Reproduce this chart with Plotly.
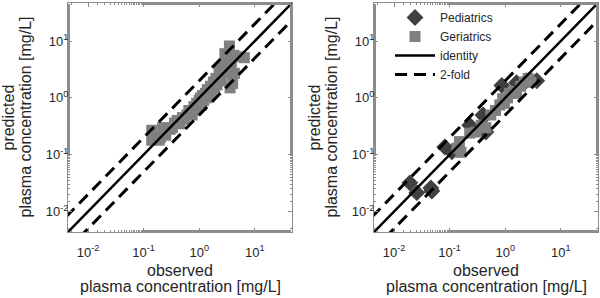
import plotly.graph_objects as go

# ---------------- data ----------------
# left panel: geriatrics (observed, predicted) [mg/L]
ger_left_obs = [0.14, 0.14, 0.19, 0.2, 0.22, 0.25, 0.3, 0.33, 0.36, 0.4, 0.45, 0.5, 0.55, 0.6,
                0.65, 0.7, 0.75, 0.8, 0.85, 0.9, 0.95, 1.0, 1.05, 1.1, 1.15, 1.2, 1.3, 1.35,
                1.4, 1.5, 1.6, 1.7, 1.8, 1.9, 2.0, 2.1, 2.3, 2.3, 2.5, 2.7, 2.9, 3.0, 3.3,
                3.5, 3.5, 3.8, 4.0, 3.6, 4.2, 4.8, 6.5, 4.3]
ger_left_pred = [0.27, 0.18, 0.18, 0.2, 0.3, 0.22, 0.28, 0.3, 0.36, 0.4, 0.35, 0.45, 0.42, 0.5,
                 0.6, 0.55, 0.5, 0.7, 0.62, 0.8, 0.7, 0.9, 1.0, 0.75, 1.1, 0.9, 1.2, 1.0,
                 1.4, 1.1, 1.6, 1.3, 1.9, 1.5, 2.2, 1.7, 2.6, 3.1, 2.0, 3.5, 6.0, 4.5, 5.5,
                 8.2, 2.8, 4.0, 1.8, 1.5, 5.6, 5.3, 5.1, 2.7]

# right panel: pediatrics
ped_obs = [0.0193, 0.0257, 0.046, 0.048, 0.082, 0.11, 0.23, 0.40, 0.42, 0.45, 0.87, 1.6, 2.4, 3.7]
ped_pred = [0.032, 0.0215, 0.026, 0.023, 0.137, 0.112, 0.33, 0.50, 0.47, 0.25, 1.66, 1.85, 2.0, 2.0]

# right panel: geriatrics
ger_right_obs = [0.135, 0.16, 0.15, 0.23, 0.30, 0.37, 0.45, 0.55, 0.67, 0.8, 0.9, 0.97, 1.1,
                 1.2, 1.4, 1.6, 1.9, 2.2, 2.6, 2.9]
ger_right_pred = [0.13, 0.11, 0.17, 0.24, 0.25, 0.33, 0.30, 0.50, 0.60, 0.75, 0.97, 0.80, 1.0,
                  1.2, 1.3, 1.2, 1.6, 1.9, 2.2, 1.9]

# reference line extent and axis ticks
line_ends = [0.004, 50]
fold = 2
axis_range_log = [-2.36, 1.67]
tick_vals = [0.01, 0.1, 1, 10]
tick_text = ["10<sup>-2</sup>", "10<sup>-1</sup>", "10<sup>0</sup>", "10<sup>1</sup>"]
x_title = ["observed", "plasma concentration [mg/L]"]
y_title = ["predicted", "plasma concentration [mg/L]"]

GER_COLOR = "#808080"
PED_COLOR = "#404040"
TXT = "#262626"
FONT = "Liberation Sans, Arial, sans-serif"

fig = go.Figure()

def add_lines(xa, ya, show):
    fig.add_trace(go.Scatter(x=line_ends, y=line_ends, mode="lines", name="identity",
                             line=dict(color="black", width=2.5), xaxis=xa, yaxis=ya,
                             showlegend=show))
    fx = [line_ends[0], line_ends[1], None, line_ends[0], line_ends[1]]
    fy = [line_ends[0] * fold, line_ends[1] * fold, None, line_ends[0] / fold, line_ends[1] / fold]
    fig.add_trace(go.Scatter(x=fx, y=fy, mode="lines", name="2-fold",
                             line=dict(color="black", width=3, dash="12px,7px"),
                             xaxis=xa, yaxis=ya, showlegend=show, connectgaps=False))

# left panel
fig.add_trace(go.Scatter(x=ger_left_obs, y=ger_left_pred, mode="markers", name="Geriatrics",
                         marker=dict(symbol="square", size=11, color=GER_COLOR),
                         xaxis="x", yaxis="y", showlegend=False))
add_lines("x", "y", False)

# right panel
fig.add_trace(go.Scatter(x=ped_obs, y=ped_pred, mode="markers", name="Pediatrics",
                         marker=dict(symbol="diamond", size=13, color=PED_COLOR),
                         xaxis="x2", yaxis="y2"))
fig.add_trace(go.Scatter(x=ger_right_obs, y=ger_right_pred, mode="markers", name="Geriatrics",
                         marker=dict(symbol="square", size=11, color=GER_COLOR),
                         xaxis="x2", yaxis="y2"))
add_lines("x2", "y2", True)

axis_common = dict(
    type="log", range=axis_range_log, tickvals=tick_vals, ticktext=tick_text,
    showgrid=False, zeroline=False, showline=True, mirror="allticks",
    linecolor="#8c8c8c", linewidth=1, ticks="inside", ticklen=4, tickcolor="#8c8c8c",
    minor=dict(ticks="inside", ticklen=2, tickcolor="#8c8c8c", showgrid=False),
    tickfont=dict(family=FONT, size=13, color=TXT),
)
x_axis = dict(ticklabelstandoff=8, **axis_common)
y_axis = dict(ticklabelstandoff=-4, **axis_common)

dom_y = [1 - 232 / 298, 1 - 3 / 298]
fig.update_layout(
    width=600, height=298,
    margin=dict(l=0, r=0, t=0, b=0),
    paper_bgcolor="white", plot_bgcolor="white",
    font=dict(family=FONT, size=13, color=TXT),
    xaxis=dict(domain=[68 / 600, 292 / 600], anchor="y", **x_axis),
    yaxis=dict(domain=dom_y, anchor="x", **y_axis),
    xaxis2=dict(domain=[374 / 600, 598 / 600], anchor="y2", **x_axis),
    yaxis2=dict(domain=dom_y, anchor="x2", **y_axis),
    legend=dict(x=390 / 600, y=1 - 3 / 298, xanchor="left", yanchor="top",
                bgcolor="rgba(0,0,0,0)", font=dict(family=FONT, size=12, color=TXT),
                itemwidth=40, tracegroupgap=0),
    showlegend=True,
)

# axis titles, one annotation per line
for off in [0, 306]:
    for txt, yc in zip(x_title, [270, 286]):
        fig.add_annotation(text=txt, xref="paper", yref="paper",
                           x=(180 + off) / 600, y=1 - yc / 298, xanchor="center", yanchor="middle",
                           showarrow=False, font=dict(family=FONT, size=16, color=TXT))
    for txt, xc in zip(y_title, [8, 25]):
        fig.add_annotation(text=txt, xref="paper", yref="paper",
                           x=(xc + off) / 600, y=1 - 117.5 / 298, xanchor="center", yanchor="middle",
                           textangle=-90, showarrow=False, font=dict(family=FONT, size=16, color=TXT))

fig.write_html("out.html", config={"displayModeBar": False},
               post_script="document.body.style.margin='0';")
